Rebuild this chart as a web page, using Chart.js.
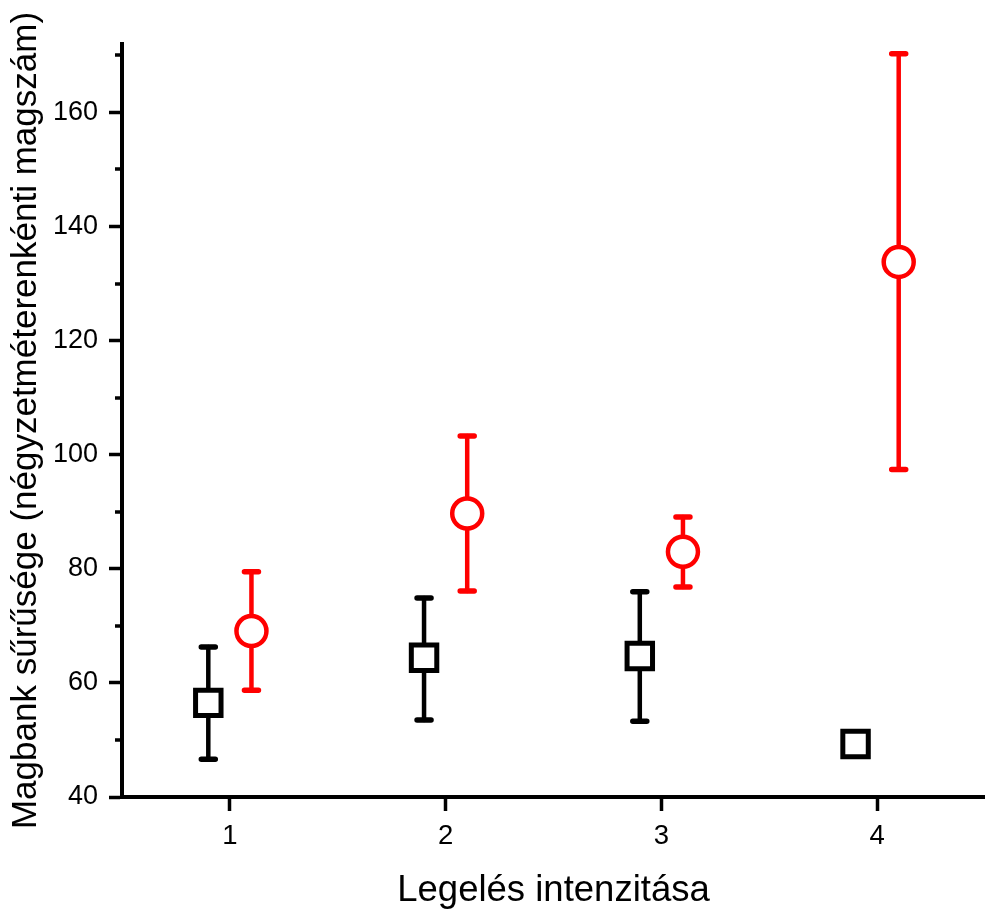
<!DOCTYPE html>
<html>
<head>
<meta charset="utf-8">
<script src="https://cdn.jsdelivr.net/npm/chart.js@4.4.1/dist/chart.umd.min.js"></script>
<style>
  html, body { margin: 0; padding: 0; background: #fff; overflow: hidden; }
  #wrap { width: 985px; height: 916px; }
</style>
</head>
<body>
<div id="wrap"><canvas id="magbankChart"></canvas></div>
<script>
// Legelés intenzitása 1-4; kontroll (fekete négyzet) és kezelt (piros kör) csoportok
const xTicks = [1, 2, 3, 4];
const yTicks = [40, 50, 60, 70, 80, 90, 100, 110, 120, 130, 140, 150, 160, 170];

const blackX = [0.9, 1.9, 2.9, 3.9];
const blackMean = [56.5, 64.4, 64.7, 49.3];
const blackUpper = [66.3, 74.9, 76.0, 51.0];
const blackLower = [46.6, 53.5, 53.3, 47.6];

const redX = [1.1, 2.1, 3.1, 4.1];
const redMean = [69.1, 89.7, 83.0, 133.8];
const redUpper = [79.5, 103.3, 89.1, 170.3];
const redLower = [58.7, 76.1, 76.8, 97.4];

const FONT = "'Liberation Sans', Arial, sans-serif";

function toPoints(xs, mean, upper, lower) {
    return xs.map((x, i) => ({ x: x, y: mean[i], hi: upper[i], lo: lower[i] }));
}

// hibasávok a pontok alá
const errorBarPlugin = {
    id: 'errorBars',
    beforeDatasetsDraw(chart) {
        const ctx = chart.ctx;
        const xs = chart.scales.x;
        const ys = chart.scales.y;
        chart.data.datasets.forEach(ds => {
            ctx.save();
            ctx.strokeStyle = ds.borderColor;
            ctx.lineCap = 'round';
            ds.data.forEach(p => {
                const px = xs.getPixelForValue(p.x);
                const yHi = ys.getPixelForValue(p.hi);
                const yLo = ys.getPixelForValue(p.lo);
                ctx.lineWidth = 4.5;
                ctx.beginPath();
                ctx.moveTo(px, yHi);
                ctx.lineTo(px, yLo);
                ctx.stroke();
                ctx.lineWidth = 5.5;
                ctx.beginPath();
                ctx.moveTo(px - 7, yHi);
                ctx.lineTo(px + 7, yHi);
                ctx.moveTo(px - 7, yLo);
                ctx.lineTo(px + 7, yLo);
                ctx.stroke();
            });
            ctx.restore();
        });
    }
};

// rövid köztes osztások az y tengelyen
const minorTickPlugin = {
    id: 'minorTicks',
    afterDraw(chart) {
        const ctx = chart.ctx;
        const ys = chart.scales.y;
        const left = chart.chartArea.left;
        ctx.save();
        ctx.strokeStyle = '#000';
        ctx.lineWidth = 3.5;
        yTicks.filter(v => v % 20 !== 0).forEach(v => {
            const py = Math.round(ys.getPixelForValue(v));
            ctx.beginPath();
            ctx.moveTo(left - 7, py);
            ctx.lineTo(left, py);
            ctx.stroke();
        });
        ctx.restore();
    }
};

new Chart(document.getElementById('magbankChart'), {
    type: 'scatter',
    data: {
        datasets: [
            {
                label: 'fekete',
                data: toPoints(blackX, blackMean, blackUpper, blackLower),
                pointStyle: 'rect',
                pointRadius: 18,
                pointBorderWidth: 5,
                borderColor: '#000000',
                pointBackgroundColor: '#ffffff',
                pointBorderColor: '#000000'
            },
            {
                label: 'piros',
                data: toPoints(redX, redMean, redUpper, redLower),
                pointStyle: 'circle',
                pointRadius: 15,
                pointBorderWidth: 4.5,
                borderColor: '#ff0000',
                pointBackgroundColor: '#ffffff',
                pointBorderColor: '#ff0000'
            }
        ]
    },
    options: {
        responsive: true,
        maintainAspectRatio: false,
        animation: false,
        clip: false,
        layout: { autoPadding: false, padding: { top: 44, right: 0, left: 0, bottom: 0 } },
        plugins: {
            legend: { display: false },
            tooltip: { enabled: false }
        },
        scales: {
            x: {
                type: 'linear',
                min: 0.5,
                max: 4.5,
                afterBuildTicks: scale => { scale.ticks = xTicks.map(v => ({ value: v })); },
                afterFit: scale => {
                    scale.height = 119;
                    scale.paddingLeft = 0;
                    scale.paddingRight = 0;
                },
                border: { display: true, color: '#000', width: 4 },
                grid: {
                    drawOnChartArea: false,
                    drawTicks: true,
                    tickLength: 14,
                    tickWidth: 3.5,
                    tickColor: '#000'
                },
                ticks: {
                    color: '#000',
                    padding: 9,
                    font: { family: FONT, size: 27.5 },
                    maxRotation: 0
                },
                title: {
                    display: true,
                    text: 'Legelés intenzitása',
                    color: '#000',
                    font: { family: FONT, size: 36.5 },
                    padding: { top: 0, bottom: 3 }
                }
            },
            y: {
                type: 'linear',
                min: 40,
                max: 172,
                afterBuildTicks: scale => { scale.ticks = yTicks.map(v => ({ value: v })); },
                afterFit: scale => {
                    scale.width = 122;
                    scale.paddingTop = 0;
                    scale.paddingBottom = 0;
                },
                border: { display: true, color: '#000', width: 4 },
                grid: {
                    drawOnChartArea: false,
                    drawTicks: true,
                    tickLength: 13,
                    tickWidth: 3.5,
                    tickColor: ctx => (ctx.tick && ctx.tick.value % 20 === 0) ? '#000' : 'rgba(0,0,0,0)'
                },
                ticks: {
                    color: '#000',
                    padding: 11,
                    font: { family: FONT, size: 27 },
                    callback: v => (v % 20 === 0 ? String(v) : '')
                },
                title: {
                    display: true,
                    text: 'Magbank sűrűsége (négyzetméterenkénti magszám)',
                    color: '#000',
                    font: { family: FONT, size: 35 },
                    padding: { top: 5, bottom: 0 }
                }
            }
        }
    },
    plugins: [errorBarPlugin, minorTickPlugin]
});
</script>
</body>
</html>
